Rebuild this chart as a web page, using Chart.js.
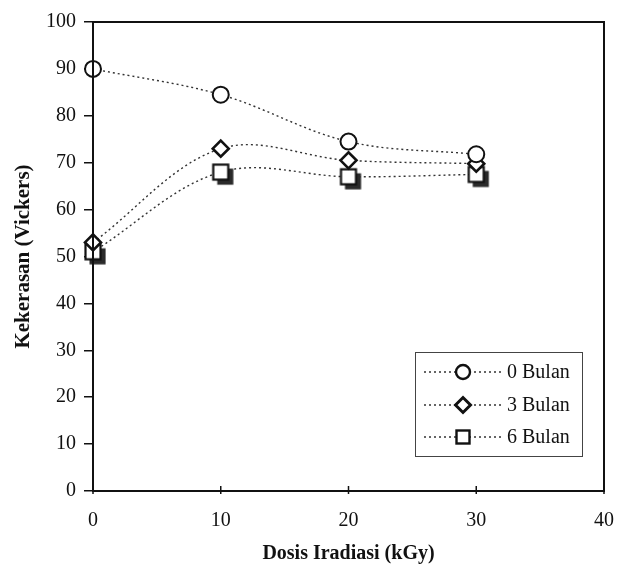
<!DOCTYPE html>
<html>
<head>
<meta charset="utf-8">
<script src="https://cdn.jsdelivr.net/npm/chart.js@4.4.1/dist/chart.umd.min.js"></script>
<style>
  html, body { margin: 0; padding: 0; background: #fff; }
  #wrap { width: 619px; height: 566px; }
</style>
</head>
<body>
<div id="wrap"><canvas id="c" width="619" height="566"></canvas></div>
<script>
// Hardness (Vickers) against irradiation dose, after 0, 3 and 6 months storage
const doses = [0, 10, 20, 30];
const bulan0 = [90, 84.5, 74.5, 71.8];
const bulan3 = [53, 73, 70.5, 69.8];
const bulan6 = [51, 68, 67, 67.5];
const seriesNames = ['0 Bulan', '3 Bulan', '6 Bulan'];
const xTicks = [0, 10, 20, 30, 40];
const yTicks = [0, 10, 20, 30, 40, 50, 60, 70, 80, 90, 100];

const FONT = '"Liberation Serif", "Times New Roman", serif';
const INK = '#111';

function toPoints(ys) {
  return doses.map((d, i) => ({ x: d, y: ys[i] }));
}

// Open square marker, optionally with a solid offset shadow
function shadowSquare(side, offset, lw, withShadow) {
  const half = side / 2 + lw;
  const size = Math.ceil(2 * (half + offset)) + 2;
  const cv = document.createElement('canvas');
  cv.width = cv.height = size;
  const g = cv.getContext('2d');
  const c = size / 2;
  if (withShadow) {
    g.fillStyle = '#2a2a2a';
    g.fillRect(c - side / 2 + offset, c - side / 2 + offset, side + lw / 2, side + lw / 2);
  }
  g.fillStyle = '#fff';
  g.fillRect(c - side / 2, c - side / 2, side, side);
  g.lineWidth = lw;
  g.strokeStyle = INK;
  g.strokeRect(c - side / 2, c - side / 2, side, side);
  return cv;
}

const squareMark = shadowSquare(15, 4, 2.2, true);
const squareLegend = shadowSquare(13, 0, 2.4, false);

const lineStyle = {
  borderColor: '#333',
  borderWidth: 1.4,
  borderDash: [2, 3],
  tension: 0.35,
  fill: false,
  clip: false,
  pointBackgroundColor: '#fff',
  pointBorderColor: INK,
  pointBorderWidth: 2
};

const datasets = [
  Object.assign({}, lineStyle, { label: seriesNames[0], data: toPoints(bulan0), pointStyle: 'circle', pointRadius: 8, order: 0 }),
  Object.assign({}, lineStyle, { label: seriesNames[1], data: toPoints(bulan3), pointStyle: 'rectRot', pointRadius: 8, pointBorderWidth: 2.6, order: 1 }),
  Object.assign({}, lineStyle, { label: seriesNames[2], data: toPoints(bulan6), pointStyle: squareMark, pointRadius: 8, order: 2 })
];

const framePlugin = {
  id: 'frame',
  afterDraw(chart) {
    const { ctx, chartArea: a, scales } = chart;
    ctx.save();
    ctx.strokeStyle = INK;
    ctx.lineWidth = 2;
    ctx.strokeRect(a.left, a.top, a.right - a.left, a.bottom - a.top);
    // short inward tick marks on the dose axis
    ctx.lineWidth = 1.5;
    xTicks.forEach(v => {
      const px = scales.x.getPixelForValue(v);
      ctx.beginPath();
      ctx.moveTo(px, a.bottom + 3);
      ctx.lineTo(px, a.bottom - 5);
      ctx.stroke();
    });
    ctx.restore();
  }
};

const legendPlugin = {
  id: 'boxLegend',
  afterDraw(chart) {
    const ctx = chart.ctx;
    const box = { x: 415, y: 352, w: 167, h: 104 };
    ctx.save();
    ctx.fillStyle = '#fff';
    ctx.fillRect(box.x, box.y, box.w, box.h);
    ctx.strokeStyle = '#444';
    ctx.lineWidth = 1;
    ctx.strokeRect(box.x + 0.5, box.y + 0.5, box.w, box.h);
    const rows = [372, 405, 437];
    const styles = [
      { pointStyle: 'circle', radius: 7, borderWidth: 2.4 },
      { pointStyle: 'rectRot', radius: 7.5, borderWidth: 3 },
      { pointStyle: squareLegend, radius: 7, borderWidth: 2 }
    ];
    rows.forEach((y, i) => {
      ctx.strokeStyle = '#333';
      ctx.lineWidth = 1.4;
      ctx.setLineDash([2, 3]);
      ctx.beginPath();
      ctx.moveTo(424, y);
      ctx.lineTo(504, y);
      ctx.stroke();
      ctx.setLineDash([]);
      ctx.fillStyle = '#fff';
      ctx.strokeStyle = INK;
      ctx.lineWidth = styles[i].borderWidth;
      Chart.helpers.drawPoint(ctx, { pointStyle: styles[i].pointStyle, radius: styles[i].radius, rotation: 0, borderWidth: styles[i].borderWidth }, 463, y);
      ctx.fillStyle = INK;
      ctx.font = '20px ' + FONT;
      ctx.textBaseline = 'middle';
      ctx.textAlign = 'left';
      ctx.fillText(seriesNames[i], 507, y + 1);
    });
    ctx.restore();
  }
};

new Chart(document.getElementById('c'), {
  type: 'line',
  data: { datasets },
  options: {
    responsive: false,
    animation: false,
    devicePixelRatio: 1,
    layout: { padding: { left: 0, right: 15, top: 22, bottom: 0 } },
    plugins: { legend: { display: false }, tooltip: { enabled: false } },
    scales: {
      x: {
        type: 'linear',
        min: 0, max: 40,
        afterBuildTicks: s => { s.ticks = xTicks.map(v => ({ value: v })); },
        afterFit: s => { s.height = 75; s.paddingLeft = 0; s.paddingRight = 0; },
        grid: { display: true, drawOnChartArea: false, drawTicks: false },
        border: { color: INK, width: 2 },
        ticks: { color: INK, font: { family: FONT, size: 20 }, padding: 18 },
        title: {
          display: true,
          text: 'Dosis Iradiasi (kGy)',
          color: INK,
          font: { family: FONT, size: 20, weight: 'bold' },
          padding: { top: 0, bottom: 0 }
        }
      },
      y: {
        min: 0, max: 100,
        afterBuildTicks: s => { s.ticks = yTicks.map(v => ({ value: v })); },
        afterFit: s => { s.width = 93; s.paddingTop = 0; s.paddingBottom = 0; },
        grid: { display: true, drawOnChartArea: false, drawTicks: true, tickLength: 9, color: INK, lineWidth: 1.5 },
        border: { color: INK, width: 2 },
        ticks: { color: INK, font: { family: FONT, size: 20 }, padding: 8 },
        title: {
          display: true,
          text: 'Kekerasan (Vickers)',
          color: INK,
          font: { family: FONT, size: 21, weight: 'bold' },
          padding: { top: 11, bottom: 0 }
        }
      }
    }
  },
  plugins: [framePlugin, legendPlugin]
});
</script>
</body>
</html>
